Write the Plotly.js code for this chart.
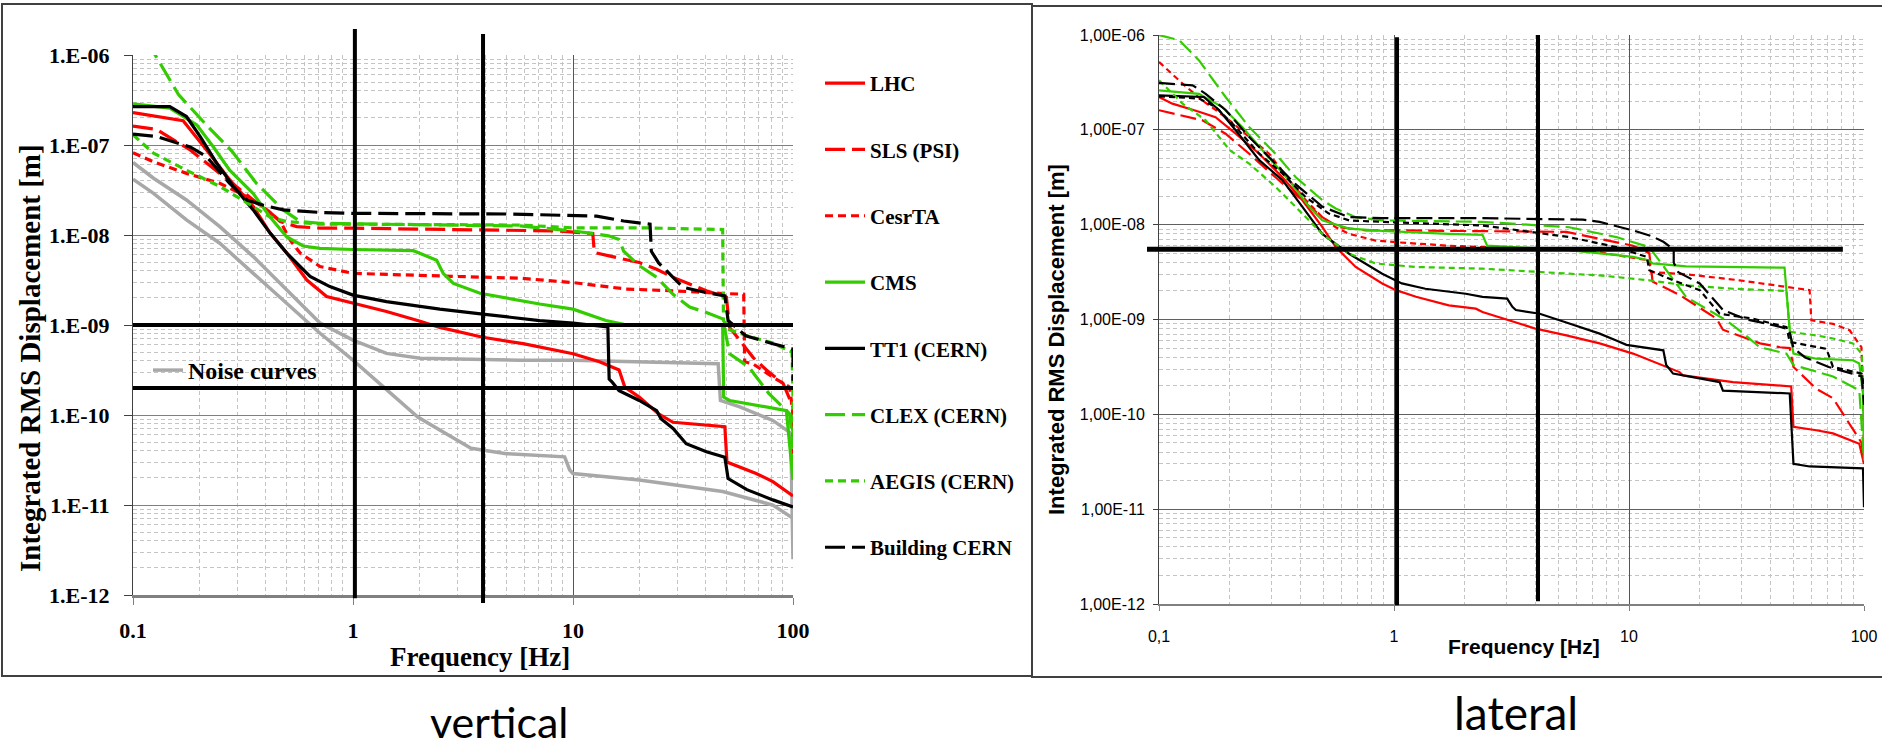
<!DOCTYPE html>
<html><head><meta charset="utf-8">
<script src="https://cdn.plot.ly/plotly-3.0.1.min.js"></script>
<style>html,body{margin:0;padding:0;background:#fff;}#chart{width:1882px;height:752px;}</style>
</head><body><div id="chart"></div>
<script>
// ---------------- VERTICAL (left panel) ----------------
const vNoiseA_f = [0.1,0.124,0.175,0.248,0.352,0.5,0.708,1,1.42,2.02,5.75,10,45.7,46.8,57.3,81,97.7,100];
const vNoiseA_v = [6.4e-8,4.27e-8,2.45e-8,1.24e-8,5.75e-9,2.45e-9,1.05e-9,6.8e-10,4.84e-10,4.27e-10,4.07e-10,4.07e-10,3.72e-10,1.45e-10,1.23e-10,8.7e-11,6.3e-11,2.5e-12];
const vNoiseB_f = [0.1,0.124,0.175,0.248,0.352,0.5,0.708,1,1.42,1.97,2.48,3.44,4.98,9.16,9.66,10,20,47.9,81,100];
const vNoiseB_v = [4.17e-8,2.9e-8,1.47e-8,8.1e-9,3.75e-9,1.74e-9,8.1e-10,4.07e-10,1.9e-10,9.5e-11,6.8e-11,4.27e-11,3.72e-11,3.43e-11,2.45e-11,2.24e-11,1.9e-11,1.41e-11,1.0e-11,7.1e-12];
const vLHC_f = [0.1,0.169,0.216,0.276,0.352,0.42,0.5,0.617,0.759,1,1.42,2.02,2.48,3.89,5.93,10,13.2,16.2,17.2,20,24.5,28.5,40.4,49,50.1,68,81,100];
const vLHC_v = [2.29e-7,1.86e-7,8.8e-8,4.07e-8,2.07e-8,1.05e-8,6.3e-9,3.16e-9,2.07e-9,1.74e-9,1.41e-9,1.1e-9,9.4e-10,7.3e-10,6.2e-10,4.8e-10,3.9e-10,3.16e-10,2.04e-10,1.58e-10,1.03e-10,8.3e-11,7.8e-11,7.4e-11,3.0e-11,2.24e-11,1.82e-11,1.26e-11];
const vSLS_f = [0.1,0.128,0.182,0.248,0.352,0.407,0.468,0.555,0.708,1,2.86,5.75,8.4,12.3,12.5,15.1,20,24,28.5,40.4,49.8,51.5,57.3,65.8,75.7,90.2,100,100];
const vSLS_v = [1.62e-7,1.49e-7,8.8e-8,4.84e-8,2.45e-8,1.9e-8,1.41e-8,1.24e-8,1.19e-8,1.19e-8,1.16e-8,1.14e-8,1.11e-8,1.04e-8,6.4e-9,5.75e-9,4.94e-9,4.17e-9,3.39e-9,2.4e-9,2.04e-9,9.4e-10,6.8e-10,4.37e-10,3.16e-10,2.24e-10,1.23e-10,5.0e-11];
const vCesr_f = [0.1,0.124,0.175,0.248,0.329,0.407,0.468,0.518,0.575,0.708,1,2.02,2.86,5.75,10,17.4,28.5,47.9,59.7,60.3,65.8,81,96.6,100,100];
const vCesr_v = [8.2e-8,6.5e-8,4.84e-8,3.75e-8,2.67e-8,1.9e-8,1.41e-8,8.8e-9,6.3e-9,4.47e-9,3.75e-9,3.6e-9,3.47e-9,3.31e-9,2.96e-9,2.51e-9,2.4e-9,2.24e-9,2.2e-9,3.9e-10,3.7e-10,2.63e-10,2.04e-10,1.02e-10,2.24e-11];
const vCMS_f = [0.1,0.147,0.195,0.232,0.275,0.352,0.42,0.5,0.594,0.708,1,1.88,2.4,2.57,2.86,3.78,7.05,10,14.1,17,47.9,48.4,51.5,68,93.3,100];
const vCMS_v = [2.86e-7,2.57e-7,1.67e-7,9.5e-8,5.25e-8,2.88e-8,1.58e-8,9.5e-9,7.55e-9,7.1e-9,6.9e-9,6.7e-9,5.25e-9,3.75e-9,2.9e-9,2.25e-9,1.71e-9,1.5e-9,1.12e-9,1.02e-9,1.0e-9,1.58e-10,1.45e-10,1.29e-10,1.12e-10,1.9e-11];
const vTT1_f = [0.1,0.147,0.175,0.202,0.24,0.286,0.352,0.42,0.5,0.638,0.785,1,1.42,2.02,2.48,3.89,7.05,10,14.4,14.6,15.1,16.2,20,24,25.1,28.5,32.7,40.4,49,50.7,61.7,81,100];
const vTT1_v = [2.67e-7,2.67e-7,2.07e-7,1.24e-7,6.3e-8,3.47e-8,1.9e-8,1.05e-8,6.3e-9,3.47e-9,2.67e-9,2.15e-9,1.82e-9,1.6e-9,1.5e-9,1.32e-9,1.12e-9,1.05e-9,9.5e-10,2.5e-10,2.3e-10,1.86e-10,1.45e-10,1.12e-10,9.1e-11,7.1e-11,4.8e-11,3.9e-11,3.4e-11,1.97e-11,1.48e-11,1.14e-11,9.5e-12];
const vCLEX_f = [0.1,0.126,0.161,0.216,0.282,0.365,0.482,0.575,0.708,1,5.75,10,14.5,16.2,17,20,24,28.5,33.9,40.4,47.9,51.5,63.1,77.6,96.6,100];
const vCLEX_v = [2.63e-6,1.0e-6,3.63e-7,1.66e-7,8.5e-8,3.72e-8,1.9e-8,1.41e-8,1.35e-8,1.33e-8,1.26e-8,1.11e-8,9.8e-9,8.9e-9,6.6e-9,4.57e-9,3.39e-9,2.19e-9,1.58e-9,1.38e-9,1.17e-9,4.8e-10,3.39e-10,1.74e-10,1.03e-10,4.47e-11];
const vAEGIS_f = [0.1,0.124,0.175,0.248,0.352,0.42,0.5,0.708,1,5.75,10,21.4,47.9,48.3,51.3,61.7,81,99,100,100];
const vAEGIS_v = [1.3e-7,8.1e-8,5.25e-8,3.47e-8,2.07e-8,1.58e-8,1.41e-8,1.32e-8,1.32e-8,1.29e-8,1.2e-8,1.2e-8,1.15e-8,1.12e-9,8.9e-10,7.6e-10,6.3e-10,5.0e-10,1.58e-10,2.5e-11];
const vBuild_f = [0.1,0.128,0.182,0.216,0.275,0.329,0.389,0.482,0.708,1,5.16,10,12.8,17,22.4,22.7,24.5,28.5,31.6,40.4,49,50.7,61,81,100,100];
const vBuild_v = [1.32e-7,1.24e-7,9.5e-8,7.4e-8,3.75e-8,2.45e-8,2.15e-8,1.9e-8,1.78e-8,1.74e-8,1.71e-8,1.66e-8,1.62e-8,1.43e-8,1.32e-8,6.6e-9,4.9e-9,3.39e-9,2.63e-9,2.29e-9,2.11e-9,1.12e-9,7.6e-10,6.2e-10,5.4e-10,2.4e-10];

// ---------------- LATERAL (right panel) ----------------
const lLHC_f = [0.1,0.114,0.148,0.174,0.212,0.267,0.335,0.407,0.495,0.565,0.687,0.891,1.02,1.24,1.71,2.23,2.38,3.09,4.01,5.41,7.5,10.4,14.4,16.4,17,23.6,27.7,49,50.1,62.7,73.8,95.5,100];
const lLHC_v = [2.22e-7,1.89e-7,1.55e-7,1.36e-7,9.1e-8,5.6e-8,3.16e-8,1.82e-8,9.5e-9,5.8e-9,3.58e-9,2.4e-9,2.04e-9,1.74e-9,1.41e-9,1.3e-9,1.2e-9,9.8e-10,8.0e-10,6.8e-10,5.6e-10,4.37e-10,3.16e-10,2.79e-10,2.57e-10,2.29e-10,2.19e-10,1.97e-10,7.4e-11,6.8e-11,6.3e-11,4.9e-11,3.0e-11];
const lSLS_f = [0.1,0.126,0.153,0.192,0.242,0.313,0.394,0.495,0.583,0.759,1.05,2.38,5.41,7.5,10.4,12.2,12.6,16.4,23.6,25.1,36.1,43.9,48.3,50.1,62.7,73.8,87.1,97.7,100];
const lSLS_v = [1.61e-7,1.42e-7,1.26e-7,9.1e-8,5.6e-8,3.16e-8,1.95e-8,1.2e-8,9.4e-9,8.7e-9,8.7e-9,8.6e-9,8.4e-9,7.1e-9,6.0e-9,5.0e-9,2.51e-9,1.82e-9,1.02e-9,7.8e-10,5.6e-10,5.1e-10,5.0e-10,3.16e-10,1.86e-10,1.48e-10,7.9e-11,5.0e-11,3.16e-11];
const lCesr_f = [0.1,0.126,0.153,0.192,0.242,0.294,0.357,0.421,0.495,0.565,0.644,0.836,1.05,1.71,2.38,5.56,7.5,12.2,12.4,17.5,29.5,58.7,59.7,73.8,86.9,97.5,99,100];
const lCesr_v = [5.2e-7,3.07e-7,2.04e-7,1.36e-7,8.4e-8,5.6e-8,2.95e-8,1.82e-8,1.2e-8,9.4e-9,8.0e-9,6.8e-9,6.5e-9,6.0e-9,5.8e-9,5.4e-9,5.1e-9,4.2e-9,3.16e-9,3.0e-9,2.59e-9,2.04e-9,9.8e-10,9.0e-10,7.7e-10,5.1e-10,1.66e-10,3.16e-11];
const lCMS_f = [0.1,0.148,0.186,0.226,0.284,0.357,0.435,0.495,0.644,0.891,1.71,2.38,2.49,3.3,5.56,10.4,12.2,12.6,17.5,45.9,48.3,50.1,62.7,89.7,95.5,99,100];
const lCMS_v = [2.61e-7,2.4e-7,1.74e-7,1.07e-7,5.6e-8,2.95e-8,1.55e-8,1.11e-8,9.1e-9,8.6e-9,8.0e-9,7.8e-9,6.0e-9,5.8e-9,5.4e-9,4.57e-9,4.2e-9,3.9e-9,3.63e-9,3.52e-9,7.7e-10,4.37e-10,3.86e-10,3.72e-10,3.43e-10,1.66e-10,3.27e-11];
const lTT1_f = [0.1,0.155,0.18,0.212,0.267,0.335,0.407,0.495,0.644,0.891,1.08,1.36,2.02,2.38,3.03,3.19,3.3,4.17,5.41,7.5,8.83,9.75,14,14.4,15.4,24.3,25.1,48.3,50.1,58.7,99,100];
const lTT1_v = [2.31e-7,2.22e-7,1.62e-7,9.9e-8,4.79e-8,2.95e-8,1.55e-8,8.0e-9,4.94e-9,3.04e-9,2.4e-9,2.11e-9,1.87e-9,1.73e-9,1.66e-9,1.36e-9,1.26e-9,1.15e-9,9.3e-10,7.1e-10,6.0e-10,5.4e-10,4.73e-10,3.31e-10,2.69e-10,2.19e-10,1.78e-10,1.66e-10,3.0e-11,2.82e-11,2.69e-11,1.05e-11];
const lCLEX_f = [0.1,0.122,0.148,0.192,0.242,0.313,0.382,0.495,0.565,0.687,0.891,2.38,5.56,8.83,12.2,14.1,17.5,25.9,29.5,36,46.8,50.1,62.7,73.8,95.5,100];
const lCLEX_v = [1.0e-6,8.8e-7,5.4e-7,2.22e-7,1.07e-7,5.6e-8,3.16e-8,1.82e-8,1.48e-8,1.2e-8,1.11e-8,1.07e-8,9.4e-9,7.4e-9,5.8e-9,3.55e-9,1.73e-9,9.8e-10,7.7e-10,5.1e-10,4.37e-10,3.31e-10,2.82e-10,2.51e-10,1.79e-10,3.27e-11];
const lAEGIS_f = [0.1,0.126,0.158,0.2,0.242,0.313,0.407,0.495,0.644,0.836,1.24,2.38,5.56,7.5,12.2,17.5,27.7,46.8,48.3,62.7,73.8,89.7,97.7,100];
const lAEGIS_v = [3.33e-7,1.89e-7,1.26e-7,6.1e-8,4.4e-8,2.51e-8,1.31e-8,8.0e-9,4.94e-9,3.9e-9,3.58e-9,3.44e-9,3.04e-9,2.92e-9,2.59e-9,2.29e-9,2.11e-9,2.0e-9,7.4e-10,6.8e-10,6.3e-10,5.6e-10,4.37e-10,1.66e-10];
const lBuild_f = [0.1,0.139,0.158,0.192,0.242,0.303,0.38,0.495,0.644,0.891,2.38,6.37,7.5,10.4,12.6,14,15.5,15.5,16.2,20,25.1,31.6,39.8,47.9,50.1,56.2,70.8,89.1,97.7,100];
const lBuild_v = [3.12e-7,2.95e-7,2.4e-7,1.62e-7,8.4e-8,4.79e-8,2.69e-8,1.55e-8,1.2e-8,1.17e-8,1.17e-8,1.13e-8,1.07e-8,8.7e-9,7.5e-9,6.6e-9,5.5e-9,3.98e-9,3.16e-9,2.4e-9,1.26e-9,1.0e-9,8.9e-10,7.9e-10,5.0e-10,3.98e-10,3.16e-10,2.69e-10,2.51e-10,1.26e-10];
const lBuild2_f = [0.1,0.148,0.174,0.212,0.267,0.335,0.421,0.528,0.644,0.891,2.38,5.56,8.83,11.9,12.2,15.4,20,24.3,33.7,46.8,48.3,69.2,73.8,97.7,100];
const lBuild2_v = [2.25e-7,2.14e-7,1.74e-7,1.07e-7,5.6e-8,3.47e-8,1.95e-8,1.31e-8,1.11e-8,1.07e-8,9.8e-9,7.4e-9,5.8e-9,4.57e-9,3.31e-9,2.59e-9,2.04e-9,1.15e-9,1.02e-9,8.3e-10,5.8e-10,4.9e-10,3.16e-10,2.69e-10,1.95e-10];

// reference (limit) lines
const vRefFreq = [1.02, 3.9];
const vRefDisp = [1e-9, 2e-10];
const lRefFreq = [1.03, 4.1];
const lRefDisp = [5.5e-9];

// tick labels
const xTickVals = [0.1, 1, 10, 100];
const vXTickText = ['0.1', '1', '10', '100'];
const lXTickText = ['0,1', '1', '10', '100'];
const yTickVals = [1e-12, 1e-11, 1e-10, 1e-9, 1e-8, 1e-7, 1e-6];
const vYTickText = ['1.E-12','1.E-11','1.E-10','1.E-09','1.E-08','1.E-07','1.E-06'];
const lYTickText = ['1,00E-12','1,00E-11','1,00E-10','1,00E-09','1,00E-08','1,00E-07','1,00E-06'];

// ---------------- layout helpers ----------------
const W = 1882, H = 752;
const px = v => v / W, py = v => 1 - v / H;
const RED = '#ff0000', GREEN = '#33cc00', BLACK = '#000000', GRAY = '#a8a8a8';
const SERIF = 'Liberation Serif, Times New Roman, serif';
const SANS = 'Liberation Sans, Arial, sans-serif';

const minorX = [], minorY = [];
[0.1, 1, 10].forEach(d => { for (let k = 2; k <= 9; k++) minorX.push(k * d); });
[1e-12, 1e-11, 1e-10, 1e-9, 1e-8, 1e-7].forEach(d => { for (let k = 2; k <= 9; k++) minorY.push(k * d); });

function tr(x, y, name, color, dash, width, side, extra) {
  return Object.assign({
    type: 'scatter', mode: 'lines', x: x, y: y, name: name,
    line: { color: color, dash: dash, width: width },
    xaxis: side === 'L' ? 'x' : 'x2', yaxis: side === 'L' ? 'y' : 'y2',
    showlegend: false, hoverinfo: 'x+y+name'
  }, extra || {});
}
const LD = '20px,7px', SD = '8px,5px';
const LD2 = '16px,6px', SD2 = '6px,4px';

const data = [
  tr(vNoiseA_f, vNoiseA_v, 'Noise curves', GRAY, 'solid', 3.5, 'L', { showlegend: true, legend: 'legend2' }),
  tr(vNoiseB_f, vNoiseB_v, 'Noise curves', GRAY, 'solid', 3.5, 'L'),
  tr(vLHC_f, vLHC_v, 'LHC', RED, 'solid', 3.2, 'L', { showlegend: true, legendgroup: 'g1' }),
  tr(vSLS_f, vSLS_v, 'SLS (PSI)', RED, LD, 3.2, 'L', { showlegend: true, legendgroup: 'g2' }),
  tr(vCesr_f, vCesr_v, 'CesrTA', RED, SD, 3.2, 'L', { showlegend: true, legendgroup: 'g3' }),
  tr(vCMS_f, vCMS_v, 'CMS', GREEN, 'solid', 3.2, 'L', { showlegend: true, legendgroup: 'g4' }),
  tr(vTT1_f, vTT1_v, 'TT1 (CERN)', BLACK, 'solid', 3.2, 'L', { showlegend: true, legendgroup: 'g5' }),
  tr(vCLEX_f, vCLEX_v, 'CLEX (CERN)', GREEN, LD, 3.2, 'L', { showlegend: true, legendgroup: 'g6' }),
  tr(vAEGIS_f, vAEGIS_v, 'AEGIS (CERN)', GREEN, SD, 3.2, 'L', { showlegend: true, legendgroup: 'g7' }),
  tr(vBuild_f, vBuild_v, 'Building CERN', BLACK, LD, 3.2, 'L', { showlegend: true, legendgroup: 'g8' }),

  tr(lLHC_f, lLHC_v, 'LHC', RED, 'solid', 2.2, 'R'),
  tr(lSLS_f, lSLS_v, 'SLS (PSI)', RED, LD2, 2.2, 'R'),
  tr(lCesr_f, lCesr_v, 'CesrTA', RED, SD2, 2.2, 'R'),
  tr(lCMS_f, lCMS_v, 'CMS', GREEN, 'solid', 2.2, 'R'),
  tr(lTT1_f, lTT1_v, 'TT1 (CERN)', BLACK, 'solid', 2.2, 'R'),
  tr(lCLEX_f, lCLEX_v, 'CLEX (CERN)', GREEN, LD2, 2.2, 'R'),
  tr(lAEGIS_f, lAEGIS_v, 'AEGIS (CERN)', GREEN, SD2, 2.2, 'R'),
  tr(lBuild_f, lBuild_v, 'Building CERN', BLACK, LD2, 2.2, 'R'),
  tr(lBuild2_f, lBuild2_v, 'Building CERN (2)', BLACK, SD2, 2.2, 'R')
];

function xAxis(domain, ticktext, font, ticklen, lw, standoff, anchor) {
  return {
    type: 'log', range: [-1, 2], domain: domain, anchor: anchor,
    tickmode: 'array', tickvals: xTickVals, ticktext: ticktext,
    ticks: 'outside', ticklen: ticklen, tickcolor: '#808080', tickwidth: 1,
    ticklabelstandoff: standoff,
    showline: true, linecolor: '#808080', linewidth: lw,
    showgrid: true, gridcolor: '#555555', gridwidth: 1,
    minor: { tickmode: 'array', tickvals: minorX, showgrid: true, gridcolor: '#c4c4c4', griddash: '4px,3px', gridwidth: 1, ticks: '' },
    zeroline: false, tickfont: font, fixedrange: true
  };
}
function yAxis(domain, ticktext, font, ticklen, standoff, anchor, gridc) {
  return {
    type: 'log', range: [-12, -6], domain: domain, anchor: anchor,
    tickmode: 'array', tickvals: yTickVals, ticktext: ticktext,
    ticks: 'outside', ticklen: ticklen, tickcolor: '#404040', tickwidth: 1,
    ticklabelstandoff: standoff,
    showline: true, linecolor: '#404040', linewidth: 1,
    showgrid: true, gridcolor: gridc, gridwidth: 1,
    minor: { tickmode: 'array', tickvals: minorY, showgrid: true, gridcolor: '#c4c4c4', griddash: '4px,3px', gridwidth: 1, ticks: '' },
    zeroline: false, tickfont: font, fixedrange: true
  };
}
const serifTick = { family: SERIF, size: 22, weight: 'bold', color: '#000' };
const sansTick = { family: SANS, size: 16, color: '#000' };

const shapes = [
  // panel frames
  { type: 'rect', xref: 'paper', yref: 'paper', x0: px(2), x1: px(1032), y0: py(676), y1: py(4), line: { color: '#404040', width: 2 }, layer: 'below' },
  { type: 'rect', xref: 'paper', yref: 'paper', x0: px(1032), x1: px(1890), y0: py(677), y1: py(6), line: { color: '#404040', width: 2 }, layer: 'below' },
  // vertical panel limit lines
  { type: 'line', xref: 'x', yref: 'y domain', x0: vRefFreq[0], x1: vRefFreq[0], y0: -0.006, y1: 1.048, line: { color: BLACK, width: 4 } },
  { type: 'line', xref: 'x', yref: 'y domain', x0: vRefFreq[1], x1: vRefFreq[1], y0: -0.015, y1: 1.039, line: { color: BLACK, width: 4 } },
  { type: 'line', xref: 'x domain', yref: 'y', x0: 0, x1: 1, y0: vRefDisp[0], y1: vRefDisp[0], line: { color: BLACK, width: 4 } },
  { type: 'line', xref: 'x domain', yref: 'y', x0: 0, x1: 1, y0: vRefDisp[1], y1: vRefDisp[1], line: { color: BLACK, width: 4 } },
  // lateral panel limit lines
  { type: 'line', xref: 'x2', yref: 'y2 domain', x0: lRefFreq[0], x1: lRefFreq[0], y0: -0.002, y1: 0.996, line: { color: BLACK, width: 4 } },
  { type: 'line', xref: 'x2', yref: 'y2 domain', x0: lRefFreq[1], x1: lRefFreq[1], y0: 0.005, y1: 1.0, line: { color: BLACK, width: 4 } },
  { type: 'line', xref: 'x2 domain', yref: 'y2', x0: -0.017, x1: 0.970, y0: lRefDisp[0], y1: lRefDisp[0], line: { color: BLACK, width: 5 } }
];

const annotations = [
  { text: 'Frequency [Hz]', xref: 'paper', yref: 'paper', x: px(480), y: py(657), showarrow: false, xanchor: 'center', yanchor: 'middle', font: { family: SERIF, size: 27, weight: 'bold', color: '#000' } },
  { text: 'Integrated RMS Displacement [m]', xref: 'paper', yref: 'paper', x: px(30), y: py(358), textangle: -90, showarrow: false, xanchor: 'center', yanchor: 'middle', font: { family: SERIF, size: 29, weight: 'bold', color: '#000' } },
  { text: 'Frequency [Hz]', xref: 'paper', yref: 'paper', x: px(1524), y: py(646), showarrow: false, xanchor: 'center', yanchor: 'middle', font: { family: SANS, size: 21, weight: 'bold', color: '#000' } },
  { text: 'Integrated RMS Displacement [m]', xref: 'paper', yref: 'paper', x: px(1056), y: py(340), textangle: -90, showarrow: false, xanchor: 'center', yanchor: 'middle', font: { family: SANS, size: 22, weight: 'bold', color: '#000' } },
  { text: 'vertical', xref: 'paper', yref: 'paper', x: px(499), y: py(721), showarrow: false, xanchor: 'center', yanchor: 'middle', font: { family: 'Lato, sans-serif', size: 43, color: '#000' } },
  { text: 'lateral', xref: 'paper', yref: 'paper', x: px(1516), y: py(712), showarrow: false, xanchor: 'center', yanchor: 'middle', font: { family: 'Lato, sans-serif', size: 46, color: '#000' } }
];

const layout = {
  width: W, height: H,
  margin: { l: 0, r: 0, t: 0, b: 0 },
  paper_bgcolor: '#ffffff', plot_bgcolor: '#ffffff',
  showlegend: true,
  xaxis: xAxis([px(133), px(793)], vXTickText, serifTick, 7, 3, 7, 'y'),
  yaxis: yAxis([py(595), py(55)], vYTickText, serifTick, 8, 10, 'x', '#808080'),
  xaxis2: xAxis([px(1159), px(1864)], lXTickText, sansTick, 5, 2, 12, 'y2'),
  yaxis2: yAxis([py(604), py(35)], lYTickText, sansTick, 5, 5, 'x2', '#606060'),
  legend: {
    x: px(820), xanchor: 'left', y: py(63), yanchor: 'top',
    font: { family: SERIF, size: 21, weight: 'bold', color: '#000' },
    bgcolor: 'rgba(0,0,0,0)', borderwidth: 0, tracegroupgap: 36, traceorder: 'grouped', itemwidth: 40
  },
  legend2: {
    x: px(148), xanchor: 'left', y: py(348), yanchor: 'top',
    font: { family: SERIF, size: 24, weight: 'bold', color: '#000' },
    bgcolor: 'rgba(0,0,0,0)', borderwidth: 0, itemwidth: 30
  },
  shapes: shapes,
  annotations: annotations
};

Plotly.newPlot('chart', data, layout, { displayModeBar: false, staticPlot: true });
</script></body></html>
